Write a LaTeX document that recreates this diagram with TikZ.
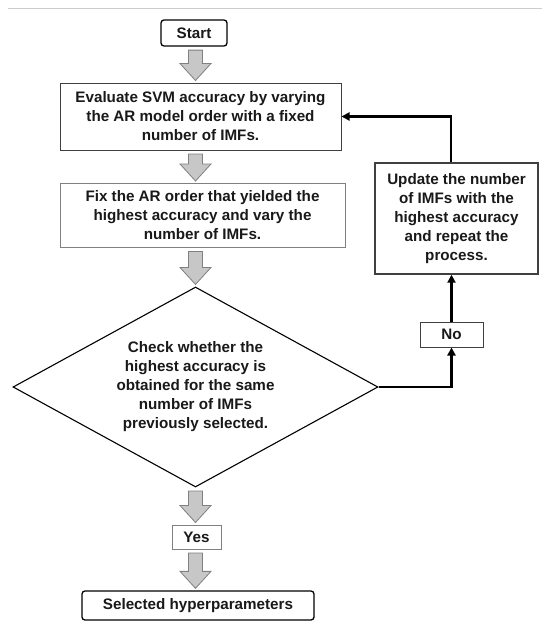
\documentclass[tikz,border=0pt]{standalone}
\usepackage{fontspec}
\setmainfont{Liberation Sans}
\usetikzlibrary{shapes.geometric,arrows.meta,calc}
\newcommand\garrow[2]{%
  \path[garrow] let \p1=(#1.south), \p2=(#2.north), \p3=(d.center) in
    (\x3-7pt,\y1-3.5pt) -- (\x3+7pt,\y1-3.5pt) -- (\x3+7pt,\y2+19pt) --
    (\x3+15.5pt,\y2+19pt) -- (\x3,\y2+2pt) -- (\x3-15.5pt,\y2+19pt) --
    (\x3-7pt,\y2+19pt) -- cycle;}
\begin{document}
\begin{tikzpicture}[x=1pt,y=-1pt,
  every node/.style={font=\bfseries\fontsize{15.2}{19}\selectfont, text=black!90, align=center, inner sep=0pt},
  termbox/.style={draw=black, line width=1.3pt, rounded corners=3pt},
  stepbox/.style={draw=black!75, line width=1pt},
  lightbox/.style={draw=black!50, line width=1pt},
  decision/.style={diamond, aspect=1.825, draw=black, line width=1.1pt, minimum width=365pt, minimum height=200pt},
  garrow/.style={fill=black!22, draw=black!50, line width=0.8pt},
  flow/.style={line width=2.5pt, -{Triangle[length=8pt,width=8pt]}}]
\fill[white] (0,0) rectangle (550,626);
\useasboundingbox (0,0) rectangle (550,626);
\draw[black!20, line width=1pt] (8,9) -- (542,9);

\node[termbox, minimum width=66pt, minimum height=26pt] (s) at (194,33) {Start};
\node[stepbox, minimum width=281pt, minimum height=67pt] (b1) at (200.5,116.5) {Evaluate SVM accuracy by varying\\the AR model order with a fixed\\number of IMFs.};
\node[lightbox, minimum width=285pt, minimum height=64pt] (b2) at (202.5,215.5) {Fix the AR order that yielded the\\highest accuracy and vary the\\number of IMFs.};
\node[decision] (d) at (195.5,387) {Check whether the\\highest accuracy is\\obtained for the same\\number of IMFs\\previously selected.};
\node[lightbox, minimum width=49pt, minimum height=24pt] (yes) at (196.5,537) {Yes};
\node[termbox, minimum width=232pt, minimum height=29pt] (f) at (198,605.5) {Selected hyperparameters};
\node[stepbox, line width=1.4pt, minimum width=163pt, minimum height=111pt] (u) at (456.5,218.5) {Update the number\\of IMFs with the\\highest accuracy\\and repeat the\\process.};
\node[stepbox, minimum width=63pt, minimum height=25pt] (no) at (451.5,334.5) {No};

\garrow{s}{b1}
\garrow{b1}{b2}
\garrow{b2}{d}
\garrow{d}{yes}
\garrow{yes}{f}

\draw[flow] ([xshift=-5.5pt]u.north) |- (b1.east);
\draw[flow] (no.north) -- (no.north |- u.south);
\draw[flow] (d.east) -| (no.south);
\end{tikzpicture}
\end{document}
